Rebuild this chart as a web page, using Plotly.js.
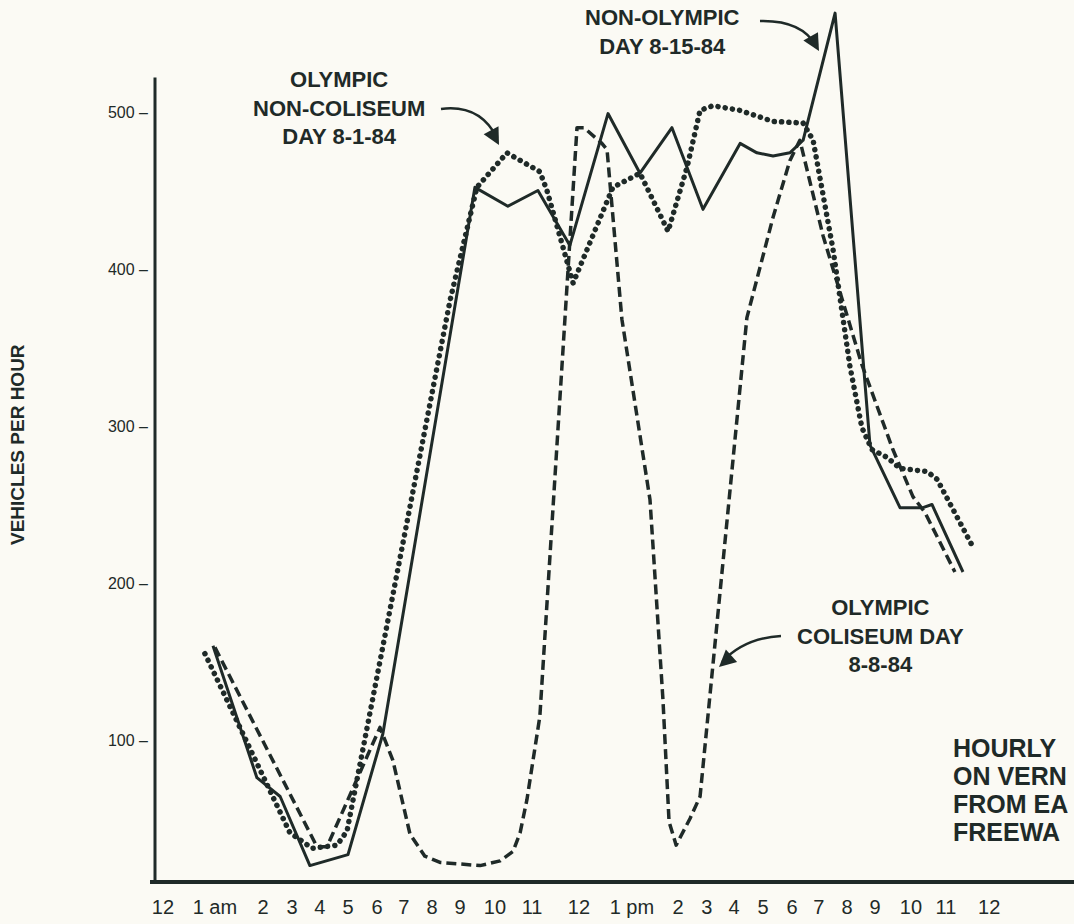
<!DOCTYPE html>
<html>
<head>
<meta charset="utf-8">
<script src="https://cdn.plot.ly/plotly-3.0.1.min.js"></script>
<style>
  html, body { margin: 0; padding: 0; background: #fbfaf4; }
  #chart { width: 1074px; height: 924px; }
  .scatterlayer .js-line { stroke-linejoin: round; }
  .scatterlayer .trace:nth-of-type(2) .js-line { stroke-linecap: round; }
</style>
</head>
<body>
<div id="chart"></div>
<script>
// ---- data (hour of day, vehicles per hour) ----
const hoursNonOlympic = [0.99, 2.35, 3.07, 3.99, 5.17, 6.25, 9.10, 10.12, 11.05, 12.04, 13.22, 14.21, 15.20, 16.16, 17.31, 17.83, 18.33, 18.85, 19.26, 20.25, 21.33, 22.26, 22.97, 23.25, 24.21];
const vphNonOlympic   = [160, 76, 64, 20, 27, 104, 452, 440, 450, 415, 499, 461, 490, 438, 480, 474, 472, 474, 482, 563, 288, 248, 248, 250, 207];

const hoursNonColiseum = [0.74, 3.37, 4.06, 4.83, 5.14, 6.35, 8.33, 9.16, 10.09, 11.11, 11.33, 12.14, 13.37, 14.21, 15.08, 15.67, 16.07, 16.47, 17.31, 18.33, 19.26, 19.57, 20.19, 20.71, 21.08, 21.39, 21.86, 22.26, 23.10, 23.41, 24.49];
const vphNonColiseum   = [155, 41, 31, 33, 42, 170, 380, 452, 474, 462, 450, 391, 452, 461, 424, 465, 501, 504, 501, 494, 493, 482, 412, 338, 299, 285, 280, 273, 271, 266, 224];

const hoursColiseum = [1.05, 3.90, 4.21, 4.52, 6.16, 6.56, 6.87, 7.09, 7.55, 8.02, 9.26, 9.88, 10.28, 10.50, 10.71, 11.11, 12.26, 12.48, 13.03, 13.19, 13.65, 14.52, 14.92, 15.11, 15.33, 15.76, 16.07, 16.47, 16.69, 17.52, 18.33, 18.85, 19.16, 19.88, 21.08, 22.04, 22.66, 23.03, 23.96];
const vphColiseum   = [159, 45, 32, 32, 108, 87, 59, 40, 26, 22, 20, 23, 29, 41, 62, 115, 490, 490, 480, 476, 368, 253, 126, 48, 33, 50, 64, 148, 189, 369, 433, 469, 482, 421, 339, 285, 255, 245, 207];

const xTickHours  = [-0.56, 1.05, 2.54, 3.44, 4.30, 5.17, 6.07, 6.90, 7.77, 8.64, 9.72, 10.87, 12.32, 13.96, 15.39, 16.28, 17.12, 18.02, 18.92, 19.75, 20.62, 21.49, 22.60, 23.68, 25.02];
const xTickLabels = ['12', '1 am', '2', '3', '4', '5', '6', '7', '8', '9', '10', '11', '12', '1 pm', '2', '3', '4', '5', '6', '7', '8', '9', '10', '11', '12'];

const yTickValues = [100, 200, 300, 400, 500];
const yTickLabels = ['100 –', '200 –', '300 –', '400 –', '500 –'];

// ---- styling / layout ----
const INK = '#1f2a28';
const BG = '#fbfaf4';
const FONT = 'Liberation Sans, Arial, Helvetica, sans-serif';
const W = 1074, H = 924;
const L = 155, R = 1074, T = 5, B = 882;
const xRange = [-0.805, 27.647];
const yRange = [9.55, 568.15];
const yAxisTop = 522;

function px(x) { return (x - L) / (R - L); }
function py(y) { return (B - y) / (B - T); }

const traces = [
  { x: hoursNonOlympic, y: vphNonOlympic, type: 'scatter', mode: 'lines', name: 'Non-Olympic day 8-15-84',
    line: { color: INK, width: 3 }, hoverinfo: 'x+y' },
  { x: hoursNonColiseum, y: vphNonColiseum, type: 'scatter', mode: 'lines', name: 'Olympic non-coliseum day 8-1-84',
    line: { color: INK, width: 5.5, dash: '0.1px,7.2px' }, hoverinfo: 'x+y' },
  { x: hoursColiseum, y: vphColiseum, type: 'scatter', mode: 'lines', name: 'Olympic coliseum day 8-8-84',
    line: { color: INK, width: 3.5, dash: '10px,5px' }, hoverinfo: 'x+y' }
];

function curve(x0, y0, cx, cy, x1, y1) {
  return {
    type: 'path', xref: 'paper', yref: 'paper',
    path: `M ${px(x0)},${py(y0)} Q ${px(cx)},${py(cy)} ${px(x1)},${py(y1)}`,
    line: { color: INK, width: 2.5 }
  };
}
function head(x, y, ax, ay) {
  return { xref: 'paper', yref: 'paper', x: px(x), y: py(y), ax: ax, ay: ay,
    text: '', showarrow: true, arrowhead: 2, arrowsize: 1.4, arrowwidth: 2.4, arrowcolor: INK, standoff: 0 };
}
function label(text, x, y, size, anchor) {
  return { xref: 'paper', yref: 'paper', x: px(x), y: py(y), text: text, showarrow: false,
    xanchor: anchor || 'center', yanchor: 'middle', align: anchor === 'left' ? 'left' : 'center',
    font: { family: FONT, size: size, color: INK, weight: 700 } };
}

const layout = {
  width: W, height: H,
  margin: { l: L, r: W - R, t: T, b: H - B, pad: 0 },
  paper_bgcolor: BG, plot_bgcolor: BG,
  showlegend: false,
  xaxis: {
    range: xRange, showgrid: false, zeroline: false, showline: false,
    tickmode: 'array', tickvals: xTickHours, ticktext: xTickLabels, tickangle: 0,
    ticks: '', ticklabelstandoff: 11,
    tickfont: { family: FONT, size: 20, color: INK }
  },
  yaxis: {
    range: yRange, showgrid: false, zeroline: false, showline: false,
    tickmode: 'array', tickvals: yTickValues, ticktext: yTickLabels,
    ticks: '', ticklabelstandoff: 6,
    tickfont: { family: FONT, size: 16, color: INK }
  },
  shapes: [
    { type: 'line', xref: 'paper', yref: 'paper', x0: px(150), x1: 1, y0: 0, y1: 0, line: { color: INK, width: 4 } },
    { type: 'line', xref: 'paper', yref: 'y', x0: 0, x1: 0, y0: yRange[0], y1: yAxisTop, line: { color: INK, width: 3 } },
    curve(441, 109, 480, 104, 497, 138),
    curve(760, 21, 802, 20, 816, 46),
    curve(781, 636, 744, 638, 722, 662)
  ],
  annotations: [
    label('OLYMPIC<br>NON-COLISEUM<br>DAY 8-1-84', 339, 108, 22),
    label('NON-OLYMPIC<br>DAY 8-15-84', 662, 32, 22),
    label('OLYMPIC<br>COLISEUM DAY<br>8-8-84', 880, 636, 22),
    label('HOURLY', 951, 748, 25, 'left'),
    label('ON VERN', 951, 776, 25, 'left'),
    label('FROM EA', 951, 804, 25, 'left'),
    label('FREEWA', 951, 832, 25, 'left'),
    head(499, 145, -8, -15),
    head(819, 51, -8, -14),
    head(719, 667, 10, -9),
    { xref: 'paper', yref: 'paper', x: px(18), y: py(445), text: 'VEHICLES PER HOUR', textangle: -90,
      showarrow: false, xanchor: 'center', yanchor: 'middle',
      font: { family: FONT, size: 19, color: INK, weight: 700 } }
  ]
};

Plotly.newPlot('chart', traces, layout, { displayModeBar: false, staticPlot: true });
</script>
</body>
</html>
